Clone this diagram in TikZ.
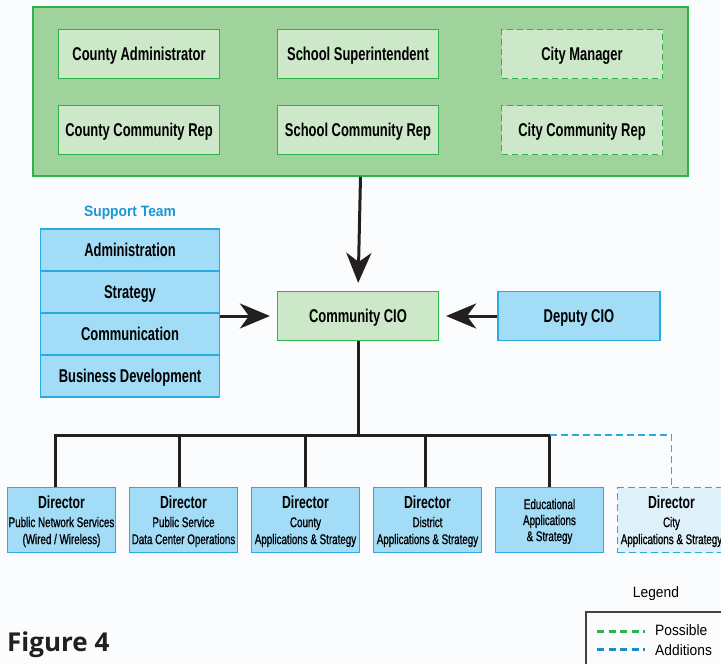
\documentclass[tikz,border=0pt]{standalone}
\usepackage{fontspec}
\setmainfont{Liberation Sans}[FakeStretch=0.7]
\newfontfamily\subfont{Liberation Sans}[FakeStretch=0.7,FakeBold=0.9]
\newfontfamily\legfont{Liberation Sans}[FakeStretch=0.92]
\newfontfamily\figfont{Open Sans}
\usetikzlibrary{arrows.meta,positioning}

\definecolor{grpfill}{HTML}{A0D39C}
\definecolor{memfill}{HTML}{CDE7C9}
\definecolor{bgreen}{HTML}{2DB34A}
\definecolor{sfill}{HTML}{A2DCF6}
\definecolor{sblue}{HTML}{29ABE2}
\definecolor{cityfill}{HTML}{DEF1FA}
\definecolor{tblue}{HTML}{1A96D4}
\definecolor{lblue}{HTML}{1A8FC6}
\definecolor{ink}{HTML}{231F20}
\definecolor{paper}{HTML}{FBFCFE}

\newcommand{\dirhd}[1]{{\fontsize{17.5}{17.5}\selectfont\rmfamily\bfseries #1}\\[1.5pt]}

\begin{document}
\begin{tikzpicture}[x=1pt,y=-1pt,on grid,
  grp/.style={draw=bgreen,line width=1.5pt,fill=grpfill,minimum width=655pt,minimum height=169pt},
  mem/.style={draw=bgreen,line width=1.2pt,fill=memfill,minimum width=161pt,minimum height=49pt,inner sep=0pt,
    text height=13.2pt,text depth=0pt,font=\fontsize{18.5}{18.5}\selectfont\bfseries},
  maybe/.style={mem,dash pattern=on 6pt off 4pt},
  team/.style={mem,draw=sblue,fill=sfill,minimum width=179pt,minimum height=42pt},
  dir/.style={draw=sblue,line width=1.2pt,fill=sfill,minimum width=108pt,minimum height=65pt,inner sep=0pt,
    align=center,text depth=0pt,font=\subfont\fontsize{14}{17}\selectfont},
  city/.style={dir,fill=cityfill,dash pattern=on 7pt off 4pt},
  conn/.style={ink,line width=3pt},
  big/.style={conn,-{Stealth[length=30pt,width=25pt,inset=9pt]}},
  add/.style={sblue,line width=1.5pt,dash pattern=on 7pt off 4pt}]
  \clip (0,0) rectangle (721,664);
  \fill[paper] (0,0) rectangle (721,664);

  % board
  \node[grp] (brd) at (360.5,91.5) {};
  \node[mem]   (ca) at (139,54)          {County Administrator};
  \node[mem]   (ss) [right=219pt of ca]  {School Superintendent};
  \node[maybe] (cm) [right=224pt of ss]  {City Manager};
  \node[mem]   (cc) [below=76pt of ca]   {County Community Rep};
  \node[mem]   (sc) [below=76pt of ss]   {School Community Rep};
  \node[maybe] (yc) [below=76pt of cm]   {City Community Rep};

  % cio row
  \node[mem]  (cio) at (358,316)         {Community CIO};
  \node[team,minimum width=162pt,minimum height=49pt] (dep) [right=221pt of cio] {Deputy CIO};

  \node[team] (adm) at (130,250)         {Administration};
  \node[team] (str) [below=42pt of adm]  {Strategy};
  \node[team] (com) [below=42pt of str]  {Communication};
  \node[team] (biz) [below=42pt of com]  {Business Development};
  \node[text=tblue,font=\legfont\fontsize{15}{15}\selectfont\bfseries] (sup) [above=37pt of adm] {Support Team};

  \draw[big,shorten >=8pt] (brd.south) -- (cio.north);
  \draw[big,shorten >=7pt] (cio -| str.east) -- (cio.west);
  \draw[big,shorten >=7pt] (dep.west) -- (cio.east);

  % directors
  \node[dir]  (d1) at (61.5,520)         {\dirhd{Director}Public Network Services\\(Wired / Wireless)};
  \node[dir]  (d2) [right=122pt of d1]   {\dirhd{Director}Public Service\\Data Center Operations};
  \node[dir]  (d3) [right=122pt of d2]   {\dirhd{Director}County\\Applications \& Strategy};
  \node[dir]  (d4) [right=122pt of d3]   {\dirhd{Director}District\\Applications \& Strategy};
  \node[dir,font=\subfont\fontsize{14}{16}\selectfont] (d5) [right=122pt of d4] {Educational\\Applications\\\& Strategy};
  \node[city] (d6) [right=122pt of d5]   {\dirhd{Director}City\\Applications \& Strategy};

  \coordinate (bus) at (358,435);
  \draw[conn] (cio.south) -- (bus);
  \draw[conn] ([xshift=-6pt]d1.north) |- (bus) -| (d5.north);
  \foreach \d/\s in {d2/-4pt,d3/0pt,d4/-2pt}
    \draw[conn] ([xshift=\s]\d.north) -- ([xshift=\s]\d.north |- bus);
  \draw[add] (d5.north |- bus) -| (d6.north);

  % legend
  \node[font=\legfont\fontsize{15}{15}\selectfont] (leg) at (656,594) {Legend};
  \draw[ink!85,line width=1.5pt] (586,612) rectangle (740,680);
  \draw[bgreen,line width=3pt,dash pattern=on 7pt off 4.5pt] (597,631) -- (645,631);
  \draw[lblue,line width=3pt,dash pattern=on 7pt off 4.5pt] (597,649) -- (645,649);
  \node[anchor=west,font=\legfont\fontsize{15}{15}\selectfont,inner sep=0pt] (pos) at (655,630) {Possible};
  \node[anchor=west,font=\legfont\fontsize{15}{15}\selectfont,inner sep=0pt] (ads) at (655,650) {Additions};

  \node[anchor=west,inner sep=0pt,text=ink,font=\figfont\fontsize{26}{26}\selectfont\bfseries] (fig) at (7,645) {Figure 4};
\end{tikzpicture}
\end{document}
